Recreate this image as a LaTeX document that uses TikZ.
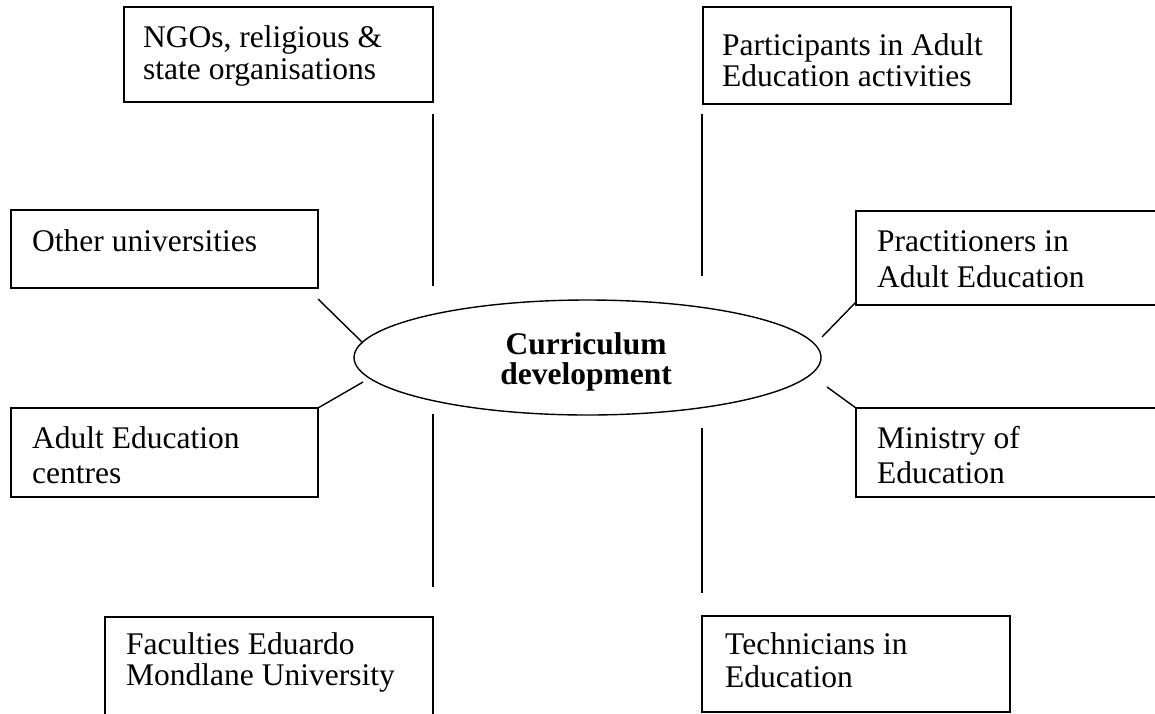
\documentclass[tikz,border=0pt]{standalone}
\usepackage{fontspec}
\setmainfont{Liberation Serif}
\usetikzlibrary{shapes.geometric}
\begin{document}
\begin{tikzpicture}[x=1pt,y=-1pt,
  box/.style={draw,line width=1.4pt,rectangle,anchor=north west,inner sep=0pt,outer sep=0pt},
  lbl/.style={anchor=base west,inner sep=0pt,font=\fontsize{31.5}{#1}\selectfont},
  lbl/.default=31.5,
  link/.style={line width=1.4pt}]
\useasboundingbox (0,0) rectangle (1155,713);
\clip (0,0) rectangle (1155,713);
% boxes
\node[box,minimum width=309pt,minimum height=95pt] (ngo) at (124,7) {};
\node[box,minimum width=308pt,minimum height=97pt] (part) at (703,7) {};
\node[box,minimum width=307pt,minimum height=78pt] (other) at (11,210) {};
\node[box,minimum width=307pt,minimum height=89pt] (aec) at (11,408) {};
\node[box,minimum width=310pt,minimum height=94pt] (prac) at (856,211) {};
\node[box,minimum width=310pt,minimum height=89pt] (min) at (856,408) {};
\node[box,minimum width=328pt,minimum height=110pt] (fac) at (105,617) {};
\node[box,minimum width=308pt,minimum height=96pt] (tech) at (702,616) {};
% texts
\node[lbl=32] (ngoT) at (143,47) {\parbox[t]{300pt}{NGOs, religious \&\\state organisations}};
\node[lbl=31] (partT) at (722,55) {\parbox[t]{300pt}{Participants in Adult\\Education activities}};
\node[lbl] (otherT) at (32,251) {Other universities};
\node[lbl=35] (aecT) at (32,448) {\parbox[t]{300pt}{Adult Education\\centres}};
\node[lbl=36] (pracT) at (877,251) {\parbox[t]{300pt}{Practitioners in\\Adult Education}};
\node[lbl=35] (minT) at (877,448) {\parbox[t]{300pt}{Ministry of\\Education}};
\node[lbl=31] (facT) at (126,654) {\parbox[t]{320pt}{Faculties Eduardo\\Mondlane University}};
\node[lbl=33] (techT) at (725,654) {\parbox[t]{300pt}{Technicians in\\Education}};
% centre
\node[draw,ellipse,line width=1.4pt,minimum width=467pt,minimum height=115pt,inner sep=0pt] (cd) at (587.5,357.5) {};
\begin{scope}
  \clip (340,300) rectangle (840,391);
  \node[anchor=base,inner sep=0pt,font=\fontsize{31.5}{30}\selectfont\bfseries] (cdT) at (586,354)
    {\parbox[t]{400pt}{\centering Curriculum\\development}};
\end{scope}
% connector end points
\coordinate (a1) at (433,114); \coordinate (a2) at (433,286);
\coordinate (b1) at (702,114); \coordinate (b2) at (702,276);
\coordinate (c1) at (318,299); \coordinate (c2) at (363,343);
\coordinate (d1) at (318,408); \coordinate (d2) at (363,382);
\coordinate (e1) at (856,302); \coordinate (e2) at (822,337);
\coordinate (f1) at (856,408); \coordinate (f2) at (827,387);
\coordinate (g1) at (433,414); \coordinate (g2) at (433,587);
\coordinate (h1) at (702,428); \coordinate (h2) at (702,593);
\draw[link] (a1) -- (a2);
\draw[link] (b1) -- (b2);
\draw[link] (c1) -- (c2);
\draw[link] (d1) -- (d2);
\draw[link] (e1) -- (e2);
\draw[link] (f1) -- (f2);
\draw[link] (g1) -- (g2);
\draw[link] (h1) -- (h2);
\end{tikzpicture}
\end{document}
